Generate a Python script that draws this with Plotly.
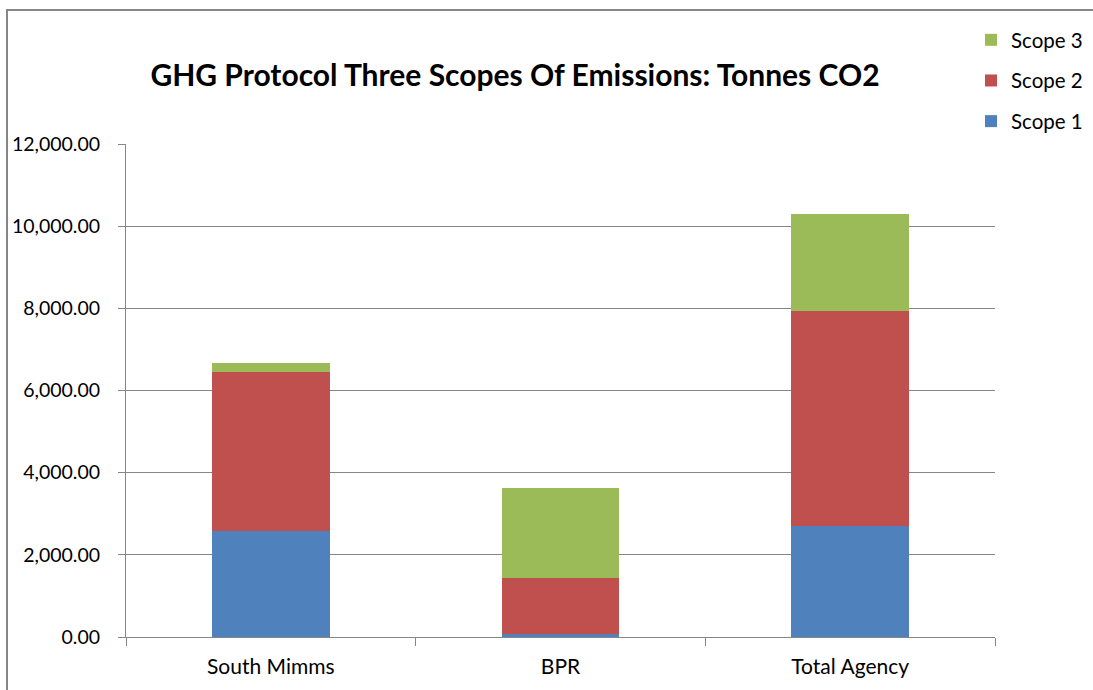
import plotly.graph_objects as go

# Tonnes CO2 by site and GHG Protocol scope
sites = ["South Mimms", "BPR", "Total Agency"]
scope1 = [2570, 80, 2690]
scope2 = [3870, 1366, 5244]
scope3 = [227, 2171, 2366]

series = [
    ("Scope 1", scope1, "#4F81BD", 3),
    ("Scope 2", scope2, "#C0504D", 2),
    ("Scope 3", scope3, "#9BBB59", 1),
]

W, H = 1093, 690
L, R, T, B = 126, 995, 144, 637
pw, ph = R - L, B - T

fig = go.Figure()
for name, vals, color, rank in series:
    fig.add_trace(go.Bar(
        x=sites, y=vals, name=name, legendgroup=name, legendrank=rank,
        marker=dict(color=color, line=dict(width=0)),
    ))

axis_grey = "#868686"
font_family = "Lato, 'Liberation Sans', sans-serif"

fig.update_layout(
    width=W, height=H,
    margin=dict(l=L, r=W - R, t=T, b=H - B, pad=0, autoexpand=False),
    paper_bgcolor="white", plot_bgcolor="white",
    barmode="stack", bargap=0.593,
    font=dict(family=font_family, size=19, color="#000000"),
    title=dict(
        text="<b>GHG Protocol Three Scopes Of Emissions: Tonnes CO2</b>",
        font=dict(size=30, family=font_family, color="#000000"),
        x=515 / W, xref="container", xanchor="center",
        y=1 - 75 / H, yref="container", yanchor="middle",
    ),
    legend=dict(
        traceorder="grouped", tracegroupgap=11,
        x=971 / W, xref="container", xanchor="left",
        y=1 - 20 / H, yref="container", yanchor="top",
        font=dict(size=20.5, family=font_family, color="#000000"),
        bgcolor="rgba(0,0,0,0)", itemwidth=30,
    ),
    showlegend=True,
)

fig.update_xaxes(
    showline=True, linecolor=axis_grey, linewidth=1,
    ticks="outside", tickson="boundaries", ticklen=8, tickcolor=axis_grey,
    ticklabelstandoff=11, showgrid=False,
    tickfont=dict(size=21),
)
fig.update_yaxes(
    range=[0, 12000], tickvals=[0, 2000, 4000, 6000, 8000, 10000, 12000],
    tickformat=",.2f",
    showline=True, linecolor=axis_grey, linewidth=1,
    ticks="outside", ticklen=7, tickcolor=axis_grey,
    ticklabelstandoff=14, tickfont=dict(size=19.5),
    showgrid=True, gridcolor=axis_grey, gridwidth=1, zeroline=False,
)

# Outer chart border
fig.add_shape(
    type="rect", xref="paper", yref="paper",
    x0=(7 - L) / pw, x1=(1110 - L) / pw,
    y0=(B - 710) / ph, y1=(B - 10) / ph,
    line=dict(color=axis_grey, width=2), fillcolor="rgba(0,0,0,0)",
    layer="below",
)

fig.write_html("out.html")
